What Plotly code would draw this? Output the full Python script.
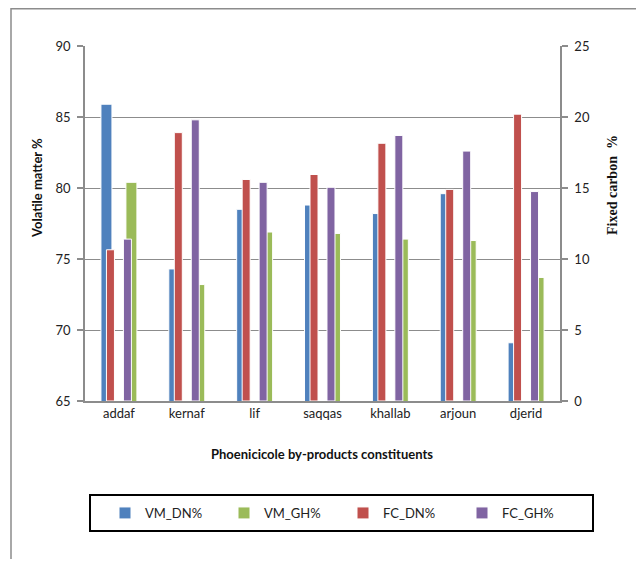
import plotly.graph_objects as go

categories = ['addaf', 'kernaf', 'lif', 'saqqas', 'khallab', 'arjoun', 'djerid']
vm_dn = [85.9, 74.3, 78.5, 78.8, 78.2, 79.6, 69.1]
vm_gh = [80.4, 73.2, 76.9, 76.8, 76.4, 76.3, 73.7]
fc_dn = [10.65, 18.9, 15.6, 15.95, 18.15, 14.9, 20.2]
fc_gh = [11.4, 19.8, 15.4, 15.05, 18.7, 17.6, 14.75]

OFF = 8  # page body margin
W, H = 644 - OFF, 567 - 2 * OFF
L, T = 85 - OFF, 46 - OFF
PW, PH = 475, 355
R, B = W - L - PW, H - T - PH

def px(xp):
    return (xp - OFF - L) / PW

def py(yp):
    return (T + PH - (yp - OFF)) / PH

FONT = 'Lato'
GRAY = '#8c8c8c'

fig = go.Figure()
specs = [
    ('VM_DN%', vm_dn, 'y', '#4F81BD', -0.265, 0.162),
    ('VM_GH%', vm_gh, 'y', '#9BBB59', 0.103, 0.162),
    ('FC_DN%', fc_dn, 'y2', '#C0504D', -0.184, 0.118),
    ('FC_GH%', fc_gh, 'y2', '#8064A2', 0.066, 0.118),
]
for name, vals, ax, col, off, wd in specs:
    fig.add_trace(go.Bar(
        x=categories, y=vals, name=name, yaxis=ax,
        offset=off, width=wd,
        marker=dict(color=col, line=dict(color='white', width=1)),
    ))

fig.update_layout(
    width=W, height=H,
    margin=dict(l=L, r=R, t=T, b=B),
    paper_bgcolor='white', plot_bgcolor='white',
    barmode='overlay',
    font=dict(family=FONT, size=13, color='#222'),
    xaxis=dict(
        type='category', range=[-0.5, 6.5],
        showline=True, linecolor=GRAY, linewidth=1.5,
        ticks='', showgrid=False,
        tickfont=dict(size=13),
    ),
    yaxis=dict(
        range=[65, 90], dtick=5, tick0=65,
        showline=True, linecolor=GRAY, linewidth=1.5,
        ticks='outside', ticklen=6, tickcolor=GRAY, tickwidth=1.5,
        ticklabelstandoff=4,
        showgrid=True, gridcolor=GRAY, gridwidth=1.3,
        zeroline=False, tickfont=dict(size=13),
    ),
    yaxis2=dict(
        range=[0, 25], dtick=5, tick0=0,
        overlaying='y', side='right',
        showline=True, linecolor=GRAY, linewidth=1.5,
        ticks='outside', ticklen=6, tickcolor=GRAY, tickwidth=1.5,
        ticklabelstandoff=4,
        showgrid=False, zeroline=False, tickfont=dict(size=13),
    ),
    showlegend=True,
    legend=dict(
        orientation='h', x=px(581), xanchor='right',
        y=py(513), yanchor='middle',
        entrywidth=74, entrywidthmode='pixels',
        font=dict(size=13), bgcolor='rgba(0,0,0,0)',
        traceorder='normal',
    ),
    shapes=[
        dict(type='rect', xref='paper', yref='paper',
             x0=px(11), x1=px(641.5), y0=py(600), y1=py(OFF + 0.75),
             line=dict(color=GRAY, width=1.5), layer='below'),
        dict(type='rect', xref='paper', yref='paper',
             x0=px(90), x1=px(593), y0=py(531), y1=py(495),
             line=dict(color='black', width=2)),
    ],
    annotations=[
        dict(text='<b>Volatile matter %</b>', xref='paper', yref='paper',
             x=px(37), y=py(188), xanchor='center', yanchor='middle',
             textangle=-90, showarrow=False,
             font=dict(size=13, family=FONT, color='#111')),
        dict(text='<b>Fixed carbon  %</b>', xref='paper', yref='paper',
             x=px(612), y=py(185), xanchor='center', yanchor='middle',
             textangle=-90, showarrow=False,
             font=dict(size=14, family='Liberation Serif', color='#111')),
        dict(text='<b>Phoenicicole by-products constituents</b>', xref='paper', yref='paper',
             x=px(322), y=py(454), xanchor='center', yanchor='middle', showarrow=False,
             font=dict(size=13, family=FONT, color='#111')),
    ],
)

fig.write_html('out.html')
